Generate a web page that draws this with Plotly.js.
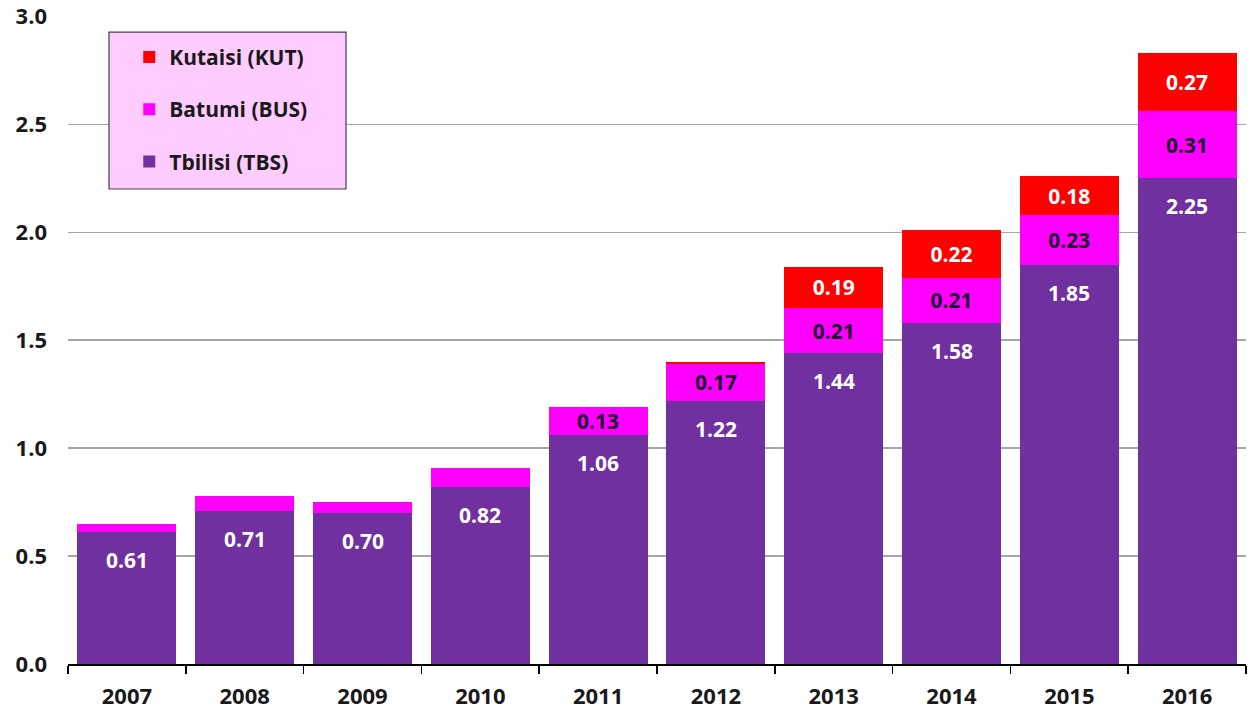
<!DOCTYPE html>
<html>
<head>
<meta charset="utf-8">
<script src="https://cdn.plot.ly/plotly-3.0.1.min.js"></script>
<style>html,body{margin:0;padding:0;background:#fff;}#chart{width:1250px;height:715px;}</style>
</head>
<body>
<div id="chart"></div>
<script>
const years = ['2007','2008','2009','2010','2011','2012','2013','2014','2015','2016'];
const tbilisi = [0.61, 0.71, 0.70, 0.82, 1.06, 1.22, 1.44, 1.58, 1.85, 2.25];
const batumi  = [0.04, 0.07, 0.05, 0.09, 0.13, 0.17, 0.21, 0.21, 0.23, 0.31];
const kutaisi = [0.00, 0.00, 0.00, 0.00, 0.00, 0.01, 0.19, 0.22, 0.18, 0.27];
const yTicks = [0, 0.5, 1.0, 1.5, 2.0, 2.5, 3.0];
const yTickText = ['0.0','0.5','1.0','1.5','2.0','2.5','3.0'];

const FONT = 'Open Sans, Liberation Sans, sans-serif';
const fmt = v => v.toFixed(2);
const labelIf = (arr, min) => arr.map(v => v >= min ? fmt(v) : '');

const traces = [
  {
    type: 'bar', name: 'Tbilisi (TBS)', x: years, y: tbilisi,
    marker: {color: '#7030a0'}, legendgroup: 'a', legendrank: 3,
    hoverinfo: 'y'
  },
  {
    type: 'bar', name: 'Batumi (BUS)', x: years, y: batumi,
    marker: {color: '#ff00ff'}, legendgroup: 'b', legendrank: 2,
    text: labelIf(batumi, 0.12), textposition: 'inside', insidetextanchor: 'middle',
    textangle: 0, constraintext: 'none',
    insidetextfont: {family: FONT, size: 21, color: '#1c0a2e', weight: 700}
  },
  {
    type: 'bar', name: 'Kutaisi (KUT)', x: years, y: kutaisi,
    marker: {color: '#ff0000'}, legendgroup: 'c', legendrank: 1,
    text: labelIf(kutaisi, 0.12), textposition: 'inside', insidetextanchor: 'middle',
    textangle: 0, constraintext: 'none',
    insidetextfont: {family: FONT, size: 21, color: '#ffffff', weight: 700}
  }
];

const annotations = years.map((yr, i) => ({
  x: i, y: tbilisi[i], xref: 'x', yref: 'y',
  text: fmt(tbilisi[i]), showarrow: false, yanchor: 'middle', yshift: -28,
  font: {family: FONT, size: 21, color: '#ffffff', weight: 700}
}));

const layout = {
  width: 1250, height: 715,
  margin: {l: 68, r: 4, t: 16, b: 51},
  paper_bgcolor: '#ffffff', plot_bgcolor: '#ffffff',
  barmode: 'stack', bargap: 0.16,
  showlegend: true,
  legend: {
    x: 0.052, y: 0.968, xanchor: 'left', yanchor: 'top',
    bgcolor: 'rgba(0,0,0,0)', borderwidth: 0,
    traceorder: 'grouped', tracegroupgap: 22,
    font: {family: FONT, size: 21, color: '#1a1a1a', weight: 700}
  },
  shapes: [{
    type: 'rect', xref: 'paper', yref: 'paper',
    x0: 0.0348, x1: 0.236, y0: 0.733, y1: 0.975,
    fillcolor: '#ffccff', line: {color: '#404040', width: 1.2}, layer: 'above'
  }],
  annotations: annotations,
  xaxis: {
    type: 'category', range: [-0.5, years.length - 0.5], autorange: false,
    showgrid: false, showline: true, linecolor: '#000000', linewidth: 1.5,
    ticks: 'outside', tickson: 'boundaries', ticklen: 8, tickcolor: '#000000', tickwidth: 1.5,
    ticklabelstandoff: 12,
    tickfont: {family: FONT, size: 22, color: '#1a1a1a', weight: 700}
  },
  yaxis: {
    range: [0, 3.002], autorange: false, tickvals: yTicks, ticktext: yTickText,
    showgrid: true, gridcolor: '#a6a6a6', gridwidth: 1.5,
    zeroline: false, showline: false, ticks: '',
    ticklabelstandoff: 20,
    tickfont: {family: FONT, size: 22, color: '#1a1a1a', weight: 700}
  }
};

Plotly.newPlot('chart', traces, layout, {displayModeBar: false, staticPlot: true});
</script>
</body>
</html>
